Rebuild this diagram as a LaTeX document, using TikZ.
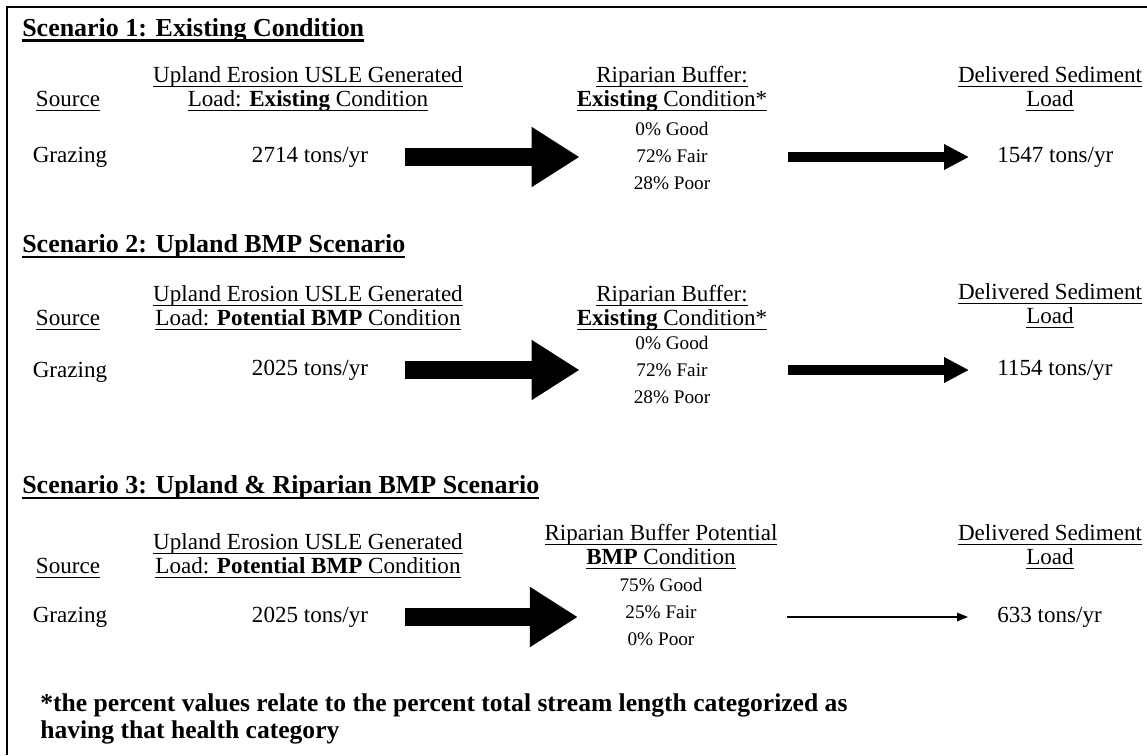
\documentclass[tikz,border=0pt]{standalone}
\usepackage{fontspec}
\setmainfont{Liberation Serif}
\usetikzlibrary{arrows.meta,positioning,calc}

\newcommand{\hdline}[1]{\setbox0\hbox{#1}\rlap{\rule[-2.8pt]{\wd0}{1.1pt}}\box0}
\newcommand{\colline}[1]{\setbox0\hbox{#1}\rlap{\rule[-2.4pt]{\wd0}{0.6pt}}\box0}

\begin{document}
\begin{tikzpicture}[x=0.52pt,y=-0.52pt,font=\fontsize{12}{12.5}\selectfont,
 head/.style={anchor=west,inner sep=1pt,font=\fontsize{13.5}{16}\selectfont\bfseries},
 lbl/.style={align=center,inner sep=1pt},
 val/.style={inner sep=1pt},
 pct/.style={align=center,inner sep=1pt,font=\fontsize{10}{14}\selectfont},
 bigflow/.style={line width=9.4pt,-{Triangle[length=25pt,width=29.6pt]}},
 midflow/.style={line width=4.7pt,-{Triangle[length=13pt,width=12.5pt]}},
 thinflow/.style={line width=0.7pt,-{Triangle[length=5.7pt,width=4.4pt]}}]
 \useasboundingbox (0,0) rectangle (1147,755);
 \draw[line width=1.5pt] (7,755) -- (7,7) -- (1147,7);
 % scenario 1
 \node[head] (head1) at (20,30) {\hdline{Scenario 1: Existing Condition}};
 \node[lbl] (src1) at (68,101) {\colline{Source}};
 \node[lbl] (up1) at (308,89) {\colline{Upland Erosion USLE Generated}\\\colline{Load: \textbf{Existing} Condition}};
 \node[lbl] (rip1) at (672,89) {\colline{Riparian Buffer:}\\\colline{\textbf{Existing} Condition*}};
 \node[lbl] (del1) at (1050,89) {\colline{Delivered Sediment}\\\colline{Load}};
 \node[val] (graze1) at (70,157) {Grazing};
 \node[val] (load1) at (310,157) {2714 tons/yr};
 \node[pct] (pct1) at (672,156) {0\% Good\\72\% Fair\\28\% Poor};
 \node[val,anchor=west] (out1) at (995,157) {1547 tons/yr};
 \draw[bigflow,shorten <=18pt,shorten >=27pt] (load1.east) -- (load1.east -| pct1.west);
 \draw[midflow,shorten <=39pt,shorten >=13.5pt] (pct1.east |- out1.west) -- (out1.west);
 % scenario 2
 \node[head] (head2) at (20,246) {\hdline{Scenario 2: Upland BMP Scenario}};
 \node[lbl] (src2) at (68,320) {\colline{Source}};
 \node[lbl] (up2) at (308,308) {\colline{Upland Erosion USLE Generated}\\\colline{Load: \textbf{Potential BMP} Condition}};
 \node[lbl] (rip2) at (672,308) {\colline{Riparian Buffer:}\\\colline{\textbf{Existing} Condition*}};
 \node[lbl] (del2) at (1050,306) {\colline{Delivered Sediment}\\\colline{Load}};
 \node[val] (graze2) at (70,372) {Grazing};
 \node[val] (load2) at (310,370) {2025 tons/yr};
 \node[pct] (pct2) at (672,370) {0\% Good\\72\% Fair\\28\% Poor};
 \node[val,anchor=west] (out2) at (995,370) {1154 tons/yr};
 \draw[bigflow,shorten <=18pt,shorten >=27pt] (load2.east) -- (load2.east -| pct2.west);
 \draw[midflow,shorten <=39pt,shorten >=13.5pt] (pct2.east |- out2.west) -- (out2.west);
 % scenario 3
 \node[head] (head3) at (20,487) {\hdline{Scenario 3: Upland \& Riparian BMP Scenario}};
 \node[lbl] (src3) at (68,568) {\colline{Source}};
 \node[lbl] (up3) at (308,556) {\colline{Upland Erosion USLE Generated}\\\colline{Load: \textbf{Potential BMP} Condition}};
 \node[lbl] (rip3) at (661,547) {\colline{Riparian Buffer Potential}\\\colline{\textbf{BMP} Condition}};
 \node[lbl] (del3) at (1050,547) {\colline{Delivered Sediment}\\\colline{Load}};
 \node[val] (graze3) at (70,617) {Grazing};
 \node[val] (load3) at (310,617) {2025 tons/yr};
 \node[pct] (pct3) at (661,612) {75\% Good\\25\% Fair\\0\% Poor};
 \node[val,anchor=west] (out3) at (995,617) {633 tons/yr};
 \draw[bigflow,shorten <=18pt,shorten >=20.5pt] (load3.east) -- (load3.east -| pct3.west);
 \draw[thinflow,shorten <=43pt,shorten >=14pt] (pct3.east |- out3.west) -- (out3.west);
 % note
 \node[anchor=west,align=left,inner sep=1pt,font=\fontsize{13.3}{14}\selectfont\bfseries] (note) at (38,719)
  {*the percent values relate to the percent total stream length categorized as\\having that health category};
\end{tikzpicture}
\end{document}
